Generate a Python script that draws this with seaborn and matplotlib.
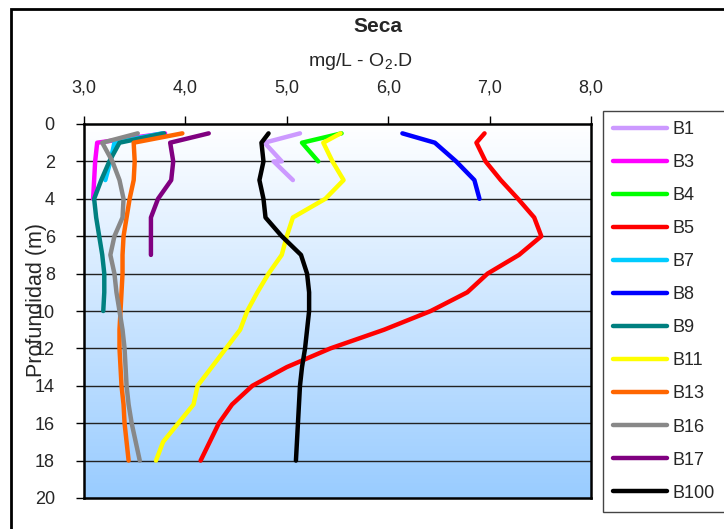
import numpy as np
import pandas as pd
import matplotlib
matplotlib.use("Agg")
import matplotlib.pyplot as plt
import seaborn as sns
from matplotlib.patches import Rectangle

# oxigeno disuelto (mg/L) por profundidad (m), temporada seca
b1_depth = [0.5, 1, 2, 2, 3]
b1_od = [5.13, 4.78, 4.95, 4.87, 5.06]

b3_depth = [0.5, 1, 2, 3, 4]
b3_od = [3.80, 3.13, 3.11, 3.10, 3.09]

b4_depth = [0.5, 1, 2]
b4_od = [5.54, 5.15, 5.31]

b5_depth = [0.5, 1, 2, 3, 4, 5, 6, 7, 8, 9, 10, 11, 12, 13, 14, 15, 16, 17, 18]
b5_od = [6.95, 6.87, 6.96, 7.11, 7.28, 7.44, 7.51, 7.29, 6.98, 6.78, 6.42, 5.96,
         5.43, 5.00, 4.66, 4.46, 4.33, 4.24, 4.15]

b7_depth = [0.5, 1, 2, 3]
b7_od = [3.77, 3.30, 3.26, 3.21]

b8_depth = [0.5, 1, 2, 3, 4]
b8_od = [6.14, 6.46, 6.67, 6.85, 6.90]

b9_depth = [0.5, 1, 2, 3, 4, 5, 6, 7, 8, 9, 10]
b9_od = [3.79, 3.35, 3.25, 3.17, 3.10, 3.12, 3.15, 3.18, 3.20, 3.20, 3.19]

b11_depth = [0.5, 1, 2, 3, 4, 5, 6, 7, 8, 9, 10, 11, 12, 13, 14, 15, 16, 17, 18]
b11_od = [5.53, 5.36, 5.45, 5.56, 5.38, 5.06, 5.00, 4.95, 4.82, 4.71, 4.61, 4.54,
          4.40, 4.26, 4.12, 4.08, 3.93, 3.78, 3.71]

b13_depth = [0.5, 1, 2, 3, 4, 5, 6, 7, 8, 9, 10, 11, 12, 13, 14, 15, 16, 17, 18]
b13_od = [3.97, 3.49, 3.50, 3.49, 3.45, 3.42, 3.39, 3.38, 3.38, 3.37, 3.36, 3.35,
          3.35, 3.36, 3.37, 3.39, 3.40, 3.42, 3.44]

b16_depth = [0.5, 1, 2, 3, 4, 5, 6, 7, 8, 9, 10, 11, 12, 13, 14, 15, 16, 17, 18]
b16_od = [3.53, 3.18, 3.28, 3.35, 3.39, 3.38, 3.30, 3.26, 3.30, 3.32, 3.35, 3.38,
          3.40, 3.41, 3.42, 3.44, 3.47, 3.51, 3.55]

b17_depth = [0.5, 1, 2, 3, 4, 5, 6, 7]
b17_od = [4.23, 3.85, 3.88, 3.86, 3.73, 3.66, 3.66, 3.66]

b100_depth = [0.5, 1, 2, 3, 4, 5, 6, 7, 8, 9, 10, 11, 12, 13, 14, 15, 16, 17, 18]
b100_od = [4.82, 4.75, 4.77, 4.73, 4.77, 4.79, 4.95, 5.14, 5.20, 5.22, 5.22, 5.20,
           5.18, 5.15, 5.13, 5.12, 5.11, 5.10, 5.09]

series_names = ["B1", "B3", "B4", "B5", "B7", "B8", "B9", "B11", "B13", "B16", "B17", "B100"]
series_data = [(b1_depth, b1_od), (b3_depth, b3_od), (b4_depth, b4_od), (b5_depth, b5_od),
               (b7_depth, b7_od), (b8_depth, b8_od), (b9_depth, b9_od), (b11_depth, b11_od),
               (b13_depth, b13_od), (b16_depth, b16_od), (b17_depth, b17_od), (b100_depth, b100_od)]
series_colors = ["#CC99FF", "#FF00FF", "#00FF00", "#FF0000", "#00CCFF", "#0000FF",
                 "#008080", "#FFFF00", "#FF6600", "#888888", "#800080", "#000000"]

x_ticks = [3.0, 4.0, 5.0, 6.0, 7.0, 8.0]
x_tick_labels = ["3,0", "4,0", "5,0", "6,0", "7,0", "8,0"]
y_ticks = list(range(0, 21, 2))

rows = []
for name, (dep, od) in zip(series_names, series_data):
    for d, v in zip(dep, od):
        rows.append({"Estacion": name, "Profundidad": d, "OD": v})
df = pd.DataFrame(rows)

sns.set_style("white")
plt.rcParams["font.family"] = ["Liberation Sans", "DejaVu Sans"]
plt.rcParams["mathtext.fontset"] = "custom"
plt.rcParams["mathtext.rm"] = "Liberation Sans"

fig = plt.figure(figsize=(7.24, 5.29), dpi=100)
W, H = 724, 529
ax = fig.add_axes([84 / W, 1 - 498 / H, (591 - 84) / W, (498 - 124) / H])

# fondo degradado blanco -> celeste
grad = np.linspace(0, 1, 256).reshape(-1, 1)
top = np.array([1.0, 1.0, 1.0])
bot = np.array([0x99, 0xCC, 0xFF]) / 255
img = top + (bot - top) * grad[:, :, None]
ax.imshow(img, extent=[0, 1, 0, 1], transform=ax.transAxes, aspect="auto", zorder=0)

for yv in y_ticks[1:-1]:
    ax.axhline(yv, color="#222222", lw=1.0, zorder=1)

# una linea por estacion, en el orden de la serie (sin ordenar por x)
palette = dict(zip(series_names, series_colors))
for name in series_names:
    sub = df[df.Estacion == name]
    sns.lineplot(data=sub, x="OD", y="Profundidad", color=palette[name], sort=False,
                 estimator=None, lw=3.2, ax=ax, label=name, zorder=3,
                 solid_capstyle="round", solid_joinstyle="round")

ax.set_xlim(3, 8)
ax.set_ylim(20, 0)
ax.xaxis.tick_top()
ax.set_xticks(x_ticks)
ax.set_xticklabels(x_tick_labels)
ax.set_yticks(y_ticks)
ax.tick_params(axis="x", which="both", top=True, bottom=False, direction="out",
               length=6, width=1, pad=14, labelsize=13, color="black")
ax.tick_params(axis="y", which="both", left=True, direction="out", length=6, width=1,
               pad=15, labelsize=13, color="black")
ax.set_xlabel("")
ax.set_ylabel("Profundidad (m)", fontsize=15.5)
ax.yaxis.set_label_coords(-0.072, 0.53)
for sp in ax.spines.values():
    sp.set_visible(True)
    sp.set_color("black")
    sp.set_linewidth(1.8)

handles, labels = ax.get_legend_handles_labels()
leg = ax.legend(handles, labels, loc="upper left", bbox_to_anchor=(603 / W, 1 - 111 / H),
                bbox_transform=fig.transFigure, fontsize=13, handlelength=3.0,
                handletextpad=0.3, labelspacing=0.89, borderpad=0.55, borderaxespad=0,
                fancybox=False, framealpha=1, edgecolor="#444444")
leg.get_frame().set_linewidth(1.0)

fig.text(378 / W, 1 - 27 / H, "Seca", ha="center", va="center", fontsize=15, fontweight="bold")
fig.text(360 / W, 1 - 62 / H, r"mg/L - O$_{\mathrm{2}}$.D", ha="center", va="center", fontsize=14)

fig.patches.append(Rectangle((10.5 / W, -0.05), 1.2, 1.05 - 8.5 / H, transform=fig.transFigure,
                             fill=False, edgecolor="black", lw=2.0))

fig.savefig("out.png", dpi=100)
